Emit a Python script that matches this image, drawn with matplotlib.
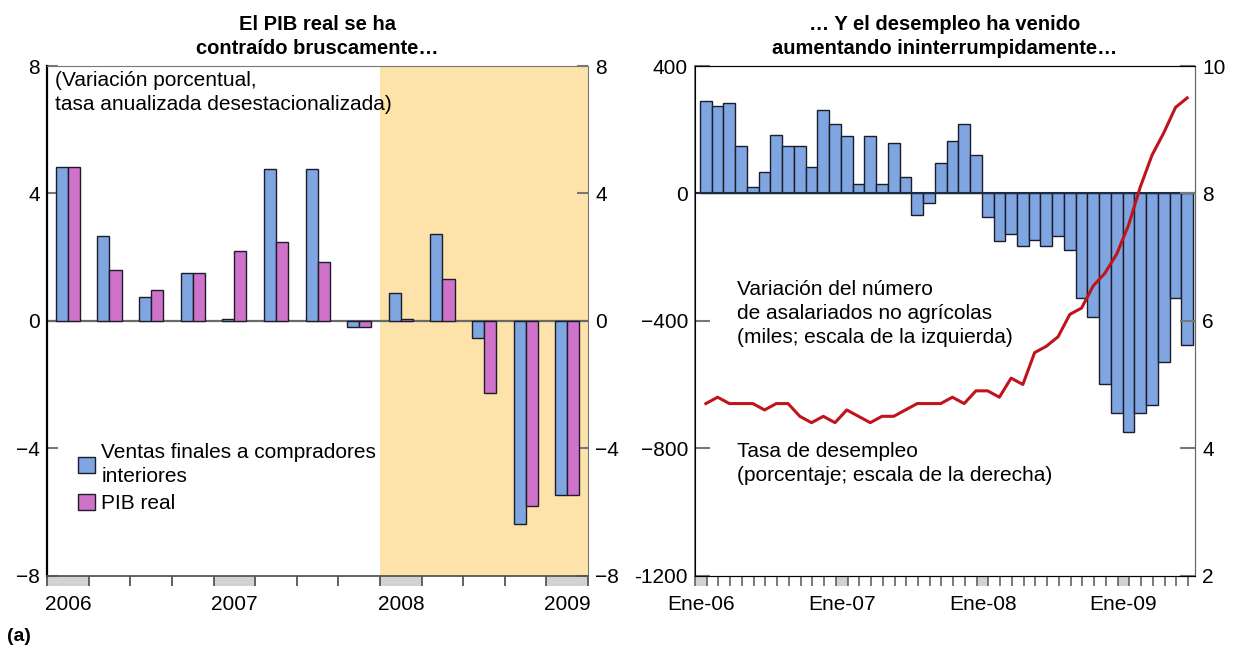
import numpy as np
import matplotlib.pyplot as plt
from matplotlib.patches import Rectangle
import matplotlib.transforms as mtransforms

plt.rcParams['font.family'] = ['Liberation Sans', 'DejaVu Sans']

# --- Data: left panel (quarterly, 2006Q1 - 2009Q1) ---
ventas = [4.84, 2.66, 0.76, 1.49, 0.05, 4.77, 4.77, -0.21, 0.86, 2.72, -0.53, -6.37, -5.48]
pib = [4.84, 1.58, 0.97, 1.49, 2.18, 2.46, 1.86, -0.21, 0.07, 1.30, -2.26, -5.83, -5.48]
years_left = ["2006", "2007", "2008", "2009"]

# --- Data: right panel (monthly, Ene-06 - Jun-09) ---
empleo = [291, 274, 283, 150, 21, 68, 185, 149, 149, 83, 262, 218,
          181, 31, 181, 31, 157, 50, -69, -30, 95, 164, 218, 120,
          -73, -148, -126, -164, -145, -164, -134, -177, -328, -388, -600, -690,
          -748, -690, -663, -528, -328, -476]
desempleo = [4.7, 4.8, 4.7, 4.7, 4.7, 4.6, 4.7, 4.7, 4.5, 4.4, 4.5, 4.4,
             4.6, 4.5, 4.4, 4.5, 4.5, 4.6, 4.7, 4.7, 4.7, 4.8, 4.7, 4.9,
             4.9, 4.8, 5.1, 5.0, 5.5, 5.6, 5.75, 6.1, 6.2, 6.55, 6.75, 7.05,
             7.5, 8.1, 8.6, 8.95, 9.35, 9.5]
years_right = ["Ene-06", "Ene-07", "Ene-08", "Ene-09"]

blue = "#7fa6e0"
pink = "#cf72c9"
shade = "#fde3aa"
grey_box = "#d2d2d2"
edge = "#1c1c2c"
axis_grey = "#555555"
fs = 15

fig = plt.figure(figsize=(12.41, 6.52), dpi=100)
ax1 = fig.add_axes([0.0379, 0.1173, 0.436, 0.7814])
ax2 = fig.add_axes([0.560, 0.1173, 0.403, 0.7814])

# ---------------- left panel ----------------
nq = len(ventas)
q = np.arange(nq)
w = 0.29
ax1.axvspan(8, nq, color=shade, zorder=0, lw=0)
ax1.bar(q + 0.5 - w / 2, ventas, width=w, color=blue, edgecolor=edge, lw=1, zorder=3,
        label="Ventas finales a compradores\ninteriores")
ax1.bar(q + 0.5 + w / 2, pib, width=w, color=pink, edgecolor=edge, lw=1, zorder=3,
        label="PIB real")
ax1.axhline(0, color="#6a6a6a", lw=1.6, zorder=2)
ax1.set_xlim(0, nq)
ax1.set_ylim(-8, 8)
ax1.set_yticks([-8, -4, 0, 4, 8])
ax1.set_yticklabels(["\u22128", "\u22124", "0", "4", "8"])
ax1.tick_params(axis="y", direction="in", length=8, width=1.5, color="#777777",
                labelsize=fs, right=True, labelright=True, pad=5)
ax1.set_xticks(np.arange(nq + 1))
ax1.set_xticklabels([])
ax1.set_xticks([0.5, 4.5, 8.5, 12.5], minor=True)
ax1.set_xticklabels(years_left, minor=True)
ax1.tick_params(axis="x", which="major", direction="out", length=7, width=1.3, color=axis_grey)
ax1.tick_params(axis="x", which="minor", length=0, labelsize=fs, pad=14)
trans1 = mtransforms.blended_transform_factory(ax1.transData, ax1.transAxes)
for k in [0, 4, 8, 12]:
    ax1.add_patch(Rectangle((k, -0.02), 1, 0.02, transform=trans1, color=grey_box,
                            clip_on=False, lw=0, zorder=1))
for s in ["top", "right"]:
    ax1.spines[s].set_color("#777777")
ax1.spines["left"].set_color("black")
ax1.spines["left"].set_linewidth(1.6)
ax1.spines["bottom"].set_color(axis_grey)
ax1.spines["bottom"].set_linewidth(1.3)
ax1.text(0.015, 0.99, "(Variación porcentual,\ntasa anualizada desestacionalizada)",
         transform=ax1.transAxes, ha="left", va="top", fontsize=fs, linespacing=1.3)
leg = ax1.legend(loc="upper left", bbox_to_anchor=(0.058, 0.26), frameon=False, fontsize=fs,
                 handlelength=0.8, handleheight=0.8, handletextpad=0.3, labelspacing=0.4,
                 borderpad=0, borderaxespad=0)
for t in leg.get_texts():
    t.set_linespacing(1.3)
ax1.set_title("El PIB real se ha\ncontraído bruscamente…", fontsize=14.5,
              fontweight="bold", pad=9, linespacing=1.3)

# ---------------- right panel ----------------
nm = len(empleo)
m = np.arange(nm)
ax2.bar(m + 0.43, empleo, width=1.0, align="edge", color=blue, edgecolor=edge, lw=1, zorder=3)
ax2.axhline(0, color="#1f2a44", lw=1.5, zorder=4)
ax2.set_xlim(0, 42.6)
ax2.set_ylim(-1200, 400)
ax2.set_yticks([-1200, -800, -400, 0, 400])
ax2.set_yticklabels(["-1200", "\u2212800", "\u2212400", "0", "400"])
ax2.tick_params(axis="y", direction="in", length=11, width=1.5, color="#777777",
                labelsize=fs, pad=5)
ax2.set_xticks(np.arange(43))
ax2.set_xticklabels([])
ax2.set_xticks([0.5, 12.5, 24.5, 36.5], minor=True)
ax2.set_xticklabels(years_right, minor=True)
ax2.tick_params(axis="x", which="major", direction="out", length=7, width=1.1, color=axis_grey)
ax2.tick_params(axis="x", which="minor", length=0, labelsize=fs, pad=14)
trans2 = mtransforms.blended_transform_factory(ax2.transData, ax2.transAxes)
for k in [0, 12, 24, 36]:
    ax2.add_patch(Rectangle((k, -0.02), 1, 0.02, transform=trans2, color=grey_box,
                            clip_on=False, lw=0, zorder=1))
for s in ["top", "right", "left"]:
    ax2.spines[s].set_color("#666666")
ax2.spines["left"].set_linewidth(1.2)
ax2.spines["bottom"].set_color(axis_grey)

ax3 = ax2.twinx()
ax3.plot(m + 0.93, desempleo, color="#c0141c", lw=2.2, zorder=5)
ax3.set_ylim(2, 10)
ax3.set_yticks([2, 4, 6, 8, 10])
ax3.tick_params(axis="y", direction="in", length=11, width=1.5, color="#777777",
                labelsize=fs, pad=5)
ax3.spines["right"].set_color("#666666")

ax2.text(0.084, 0.58, "Variación del número\nde asalariados no agrícolas\n(miles; escala de la izquierda)",
         transform=ax2.transAxes, ha="left", va="top", fontsize=fs, linespacing=1.32, zorder=6)
ax2.text(0.084, 0.262, "Tasa de desempleo\n(porcentaje; escala de la derecha)",
         transform=ax2.transAxes, ha="left", va="top", fontsize=fs, linespacing=1.32, zorder=6)
ax2.set_title("… Y el desempleo ha venido\naumentando ininterrumpidamente…", fontsize=14.5,
              fontweight="bold", pad=9, linespacing=1.3)

fig.text(0.006, 0.01, "(a)", fontsize=14, fontweight="bold", ha="left", va="bottom")

fig.savefig("out.png", dpi=100)
